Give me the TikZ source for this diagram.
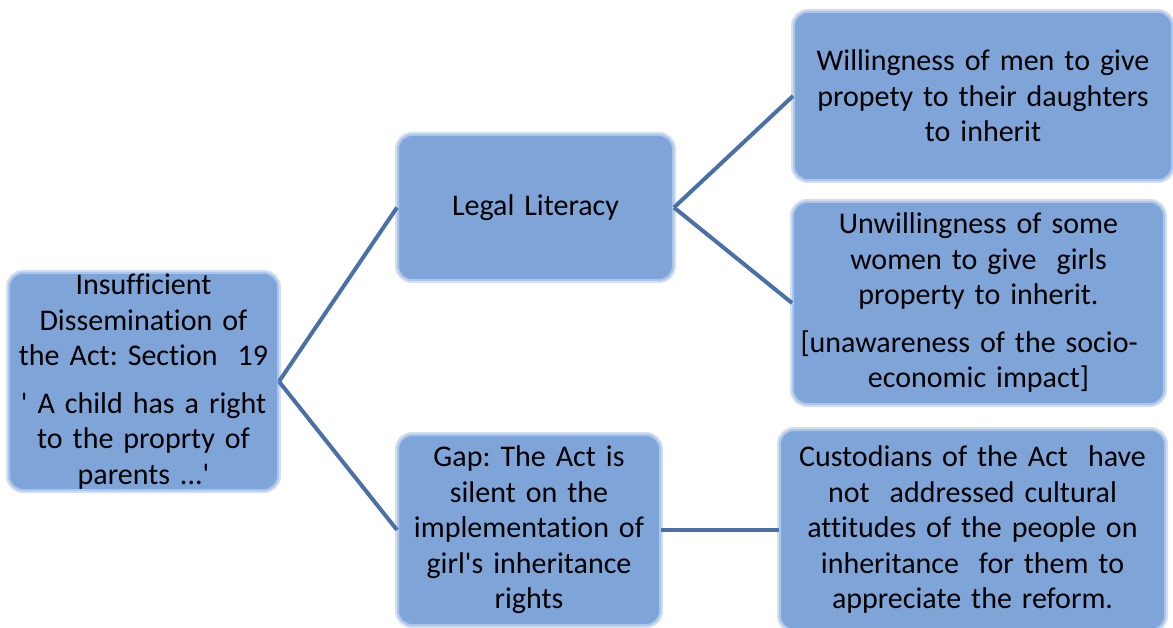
\documentclass[tikz,border=0pt]{standalone}
\usepackage{fontspec}
\setmainfont{Carlito}[Ligatures={NoCommon}]
\usetikzlibrary{positioning}
\definecolor{boxfill}{HTML}{7FA4D8}
\definecolor{boxedge}{HTML}{A6C7F2}
\definecolor{boxglow}{HTML}{D9DEE6}
\definecolor{linkblue}{HTML}{4A70A8}
\newcommand{\sq}{\textquotesingle}
\frenchspacing

\begin{document}
\begin{tikzpicture}[x=1pt,y=-1pt,
  box/.style={draw=boxedge, line width=2pt, fill=boxfill, rounded corners=14pt,
    preaction={draw=boxglow, line width=6pt},
    inner sep=0pt, align=center, font=\fontsize{30}{35.5}\selectfont},
  link/.style={draw=linkblue, line width=4pt}]
\useasboundingbox (0,0) rectangle (1173,628);
% boxes
\node[box, minimum width=269pt, minimum height=217pt, text width=266pt] (root) at (143.5,381.5)
  {Insufficient\\Dissemination of\\the Act: Section\ \ 19\par\vspace{12pt}\sq\ A child has a right\\to the proprty of\\parents ...\sq};
\node[box, minimum width=275pt, minimum height=145pt, text width=260pt] (legal) at (535.5,207.5)
  {Legal Literacy};
\node[box, minimum width=262pt, minimum height=190pt, text width=258pt] (gap) at (529,530)
  {Gap: The Act is\\silent on the\\implementation of\\girl\sq s inheritance\\rights};
\node[box, minimum width=378pt, minimum height=168pt, text width=365pt] (will) at (983,96)
  {Willingness of men to give\\propety to their daughters\\to inherit};
\node[box, minimum width=371pt, minimum height=202pt, text width=356pt] (unwill) at (978.5,303)
  {Unwillingness of some\\women to give\ \ girls\\property to inherit.\par\vspace{12pt}\raggedright
   \makebox[356pt][s]{[unawareness of the socio-}\\economic impact]};
\node[box, minimum width=385pt, minimum height=200pt, text width=375pt] (cust) at (972.5,530)
  {Custodians of the Act\ \ have\\not\ \ addressed cultural\\attitudes of the people on\\inheritance\ \ for them to\\appreciate the reform.};
% links
\draw[link] (root.east) -- (legal.west);
\draw[link] (root.east) -- (gap.west);
\draw[link] (legal.east) -- (will.west);
\draw[link] (legal.east) -- (unwill.west);
\draw[link] (gap.east) -- (cust.west);
\end{tikzpicture}
\end{document}
